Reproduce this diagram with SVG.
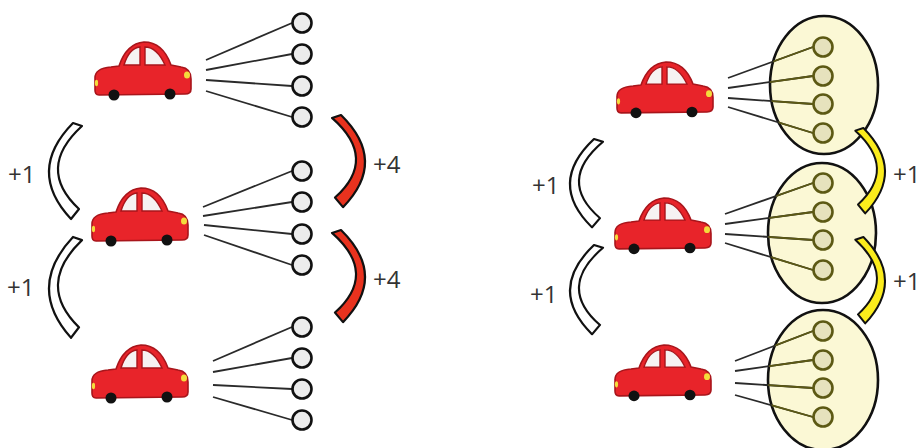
<svg xmlns="http://www.w3.org/2000/svg" xmlns:xlink="http://www.w3.org/1999/xlink" width="919" height="448" viewBox="0 0 919 448">
  <style>
    .body { fill: #e8242a; stroke: #a8151b; stroke-width: 1.6; stroke-linejoin: round; }
    .win { fill: #f6f2f2; stroke: #a8151b; stroke-width: 1.4; }
    .wheel { fill: #111; }
    .lamp { fill: #f4dc3c; }
    .unit { fill: #ececec; stroke: #111; stroke-width: 2.6; }
    .cell { fill: #fbf8d5; stroke: #111; stroke-width: 2.6; }
    .unit-in { fill: #e6e2bd; stroke: #5c5914; stroke-width: 2.6; }
    .wire { stroke: #2a2a2a; stroke-width: 1.8; fill: none; }
    .bend { stroke: #111; stroke-width: 2.2; stroke-linejoin: round; vector-effect: non-scaling-stroke; }
    .white { fill: #ffffff; }
    .red { fill: #e8321e; }
    .yellow { fill: #fbec1c; }
    .lbl { font-family: "Open Sans", "Liberation Sans", sans-serif; font-size: 24px; fill: #333333; }
  </style>
  <defs>
    <!-- side view of a small car, about 100 x 58 -->
    <g id="car">
      <path class="body" d="M2,36 C2,29 7,26 18,25 L26,24 C31,9 39,1 51,0 C64,0 73,9 78,23 L88,25 C95,26 98,30 98,37 L98,47 C98,51 96,52 92,52 L6,53 C3,53 2,51 2,48 Z"/>
      <path class="win" d="M31,23 C34,13 39,6 47,5 L47,23 Z"/>
      <path class="win" d="M52,5 C61,5 67,12 72,23 L52,23 Z"/>
      <circle class="wheel" cx="21" cy="53" r="5.5"/>
      <circle class="wheel" cx="77" cy="52" r="5.5"/>
      <ellipse class="lamp" cx="94" cy="33" rx="3" ry="3.5"/>
      <ellipse class="lamp" cx="3.5" cy="41" rx="1.6" ry="3.2"/>
    </g>
    <!-- curved band opening to the right, with a slanted tip at the bottom -->
    <path id="bend" d="M24,0 L33,3 Q-13.5,45.5 30,86 L22,96 Q-23,48 24,0 Z"/>
    <clipPath id="inside">
      <ellipse cx="824" cy="85" rx="54" ry="69"/>
      <ellipse cx="822" cy="233" rx="54" ry="70"/>
      <ellipse cx="823" cy="380" rx="55" ry="70"/>
    </clipPath>
    <g id="rwires">
      <line x1="728" y1="78" x2="813" y2="47"/>
      <line x1="728" y1="88" x2="813" y2="76"/>
      <line x1="728" y1="98" x2="813" y2="104"/>
      <line x1="728" y1="107" x2="813" y2="133"/>
      <line x1="725" y1="214" x2="813" y2="183"/>
      <line x1="725" y1="224" x2="813" y2="212"/>
      <line x1="725" y1="234" x2="813" y2="240"/>
      <line x1="725" y1="243" x2="813" y2="270"/>
      <line x1="735" y1="361" x2="813" y2="331"/>
      <line x1="735" y1="371" x2="813" y2="360"/>
      <line x1="735" y1="383" x2="813" y2="388"/>
      <line x1="735" y1="395" x2="813" y2="417"/>
    </g>
  </defs>

  <rect width="919" height="448" fill="#ffffff"/>

  <!-- right-hand cells behind their wiring -->
  <g id="cell-r1"><ellipse class="cell" cx="824" cy="85" rx="54" ry="69"/></g>
  <g id="cell-r2"><ellipse class="cell" cx="822" cy="233" rx="54" ry="70"/></g>
  <g id="cell-r3"><ellipse class="cell" cx="823" cy="380" rx="55" ry="70"/></g>

  <g id="connectors">
    <!-- left wiring -->
    <g class="wire">
      <line x1="206" y1="60" x2="292" y2="23"/>
      <line x1="206" y1="70" x2="292" y2="54"/>
      <line x1="206" y1="80" x2="292" y2="86"/>
      <line x1="206" y1="91" x2="292" y2="117"/>
      <line x1="203" y1="207" x2="292" y2="171"/>
      <line x1="203" y1="216" x2="292" y2="202"/>
      <line x1="204" y1="225" x2="292" y2="234"/>
      <line x1="204" y1="235" x2="292" y2="265"/>
      <line x1="213" y1="361" x2="292" y2="327"/>
      <line x1="213" y1="372" x2="292" y2="358"/>
      <line x1="213" y1="385" x2="292" y2="389"/>
      <line x1="213" y1="397" x2="292" y2="420"/>
    </g>
    <!-- right wiring: dark outside the cells, olive inside -->
    <use xlink:href="#rwires" stroke="#2a2a2a" stroke-width="1.8"/>
    <use xlink:href="#rwires" stroke="#5c5914" stroke-width="1.8" clip-path="url(#inside)"/>

    <!-- step arrows -->
    <use xlink:href="#bend" class="bend white" transform="translate(49,123)"/>
    <use xlink:href="#bend" class="bend white" transform="translate(49,237) scale(1,1.05)"/>
    <use xlink:href="#bend" class="bend red" transform="translate(365,115) scale(-1,0.96)"/>
    <use xlink:href="#bend" class="bend red" transform="translate(365,230) scale(-1,0.96)"/>
    <use xlink:href="#bend" class="bend white" transform="translate(570,139) scale(1,0.92)"/>
    <use xlink:href="#bend" class="bend white" transform="translate(570,245) scale(1,0.93)"/>
    <use xlink:href="#bend" class="bend yellow" transform="translate(885,128) scale(-0.9,0.89)"/>
    <use xlink:href="#bend" class="bend yellow" transform="translate(885,237) scale(-0.9,0.9)"/>

    <text class="lbl" x="8" y="183">+1</text>
    <text class="lbl" x="7" y="296">+1</text>
    <text class="lbl" x="373" y="173">+4</text>
    <text class="lbl" x="373" y="288">+4</text>
    <text class="lbl" x="532" y="194">+1</text>
    <text class="lbl" x="530" y="303">+1</text>
    <text class="lbl" x="893" y="183">+1</text>
    <text class="lbl" x="893" y="290">+1</text>
  </g>

  <!-- cars -->
  <g id="car-l1"><use xlink:href="#car" transform="translate(93,42)"/></g>
  <g id="car-l2"><use xlink:href="#car" transform="translate(90,188)"/></g>
  <g id="car-l3"><use xlink:href="#car" transform="translate(90,345)"/></g>
  <g id="car-r1"><use xlink:href="#car" transform="translate(615,62) scale(1,0.96)"/></g>
  <g id="car-r2"><use xlink:href="#car" transform="translate(613,198) scale(1,0.96)"/></g>
  <g id="car-r3"><use xlink:href="#car" transform="translate(613,345) scale(1,0.96)"/></g>

  <!-- left units -->
  <g id="units-l1">
    <circle class="unit" cx="302" cy="23" r="9.5"/>
    <circle class="unit" cx="302" cy="54" r="9.5"/>
    <circle class="unit" cx="302" cy="86" r="9.5"/>
    <circle class="unit" cx="302" cy="117" r="9.5"/>
  </g>
  <g id="units-l2">
    <circle class="unit" cx="302" cy="171" r="9.5"/>
    <circle class="unit" cx="302" cy="202" r="9.5"/>
    <circle class="unit" cx="302" cy="234" r="9.5"/>
    <circle class="unit" cx="302" cy="265" r="9.5"/>
  </g>
  <g id="units-l3">
    <circle class="unit" cx="302" cy="327" r="9.5"/>
    <circle class="unit" cx="302" cy="358" r="9.5"/>
    <circle class="unit" cx="302" cy="389" r="9.5"/>
    <circle class="unit" cx="302" cy="420" r="9.5"/>
  </g>

  <!-- right units inside the cells -->
  <g id="units-r1">
    <circle class="unit-in" cx="823" cy="47" r="9.5"/>
    <circle class="unit-in" cx="823" cy="76" r="9.5"/>
    <circle class="unit-in" cx="823" cy="104" r="9.5"/>
    <circle class="unit-in" cx="823" cy="133" r="9.5"/>
  </g>
  <g id="units-r2">
    <circle class="unit-in" cx="823" cy="183" r="9.5"/>
    <circle class="unit-in" cx="823" cy="212" r="9.5"/>
    <circle class="unit-in" cx="823" cy="240" r="9.5"/>
    <circle class="unit-in" cx="823" cy="270" r="9.5"/>
  </g>
  <g id="units-r3">
    <circle class="unit-in" cx="823" cy="331" r="9.5"/>
    <circle class="unit-in" cx="823" cy="360" r="9.5"/>
    <circle class="unit-in" cx="823" cy="388" r="9.5"/>
    <circle class="unit-in" cx="823" cy="417" r="9.5"/>
  </g>
</svg>
